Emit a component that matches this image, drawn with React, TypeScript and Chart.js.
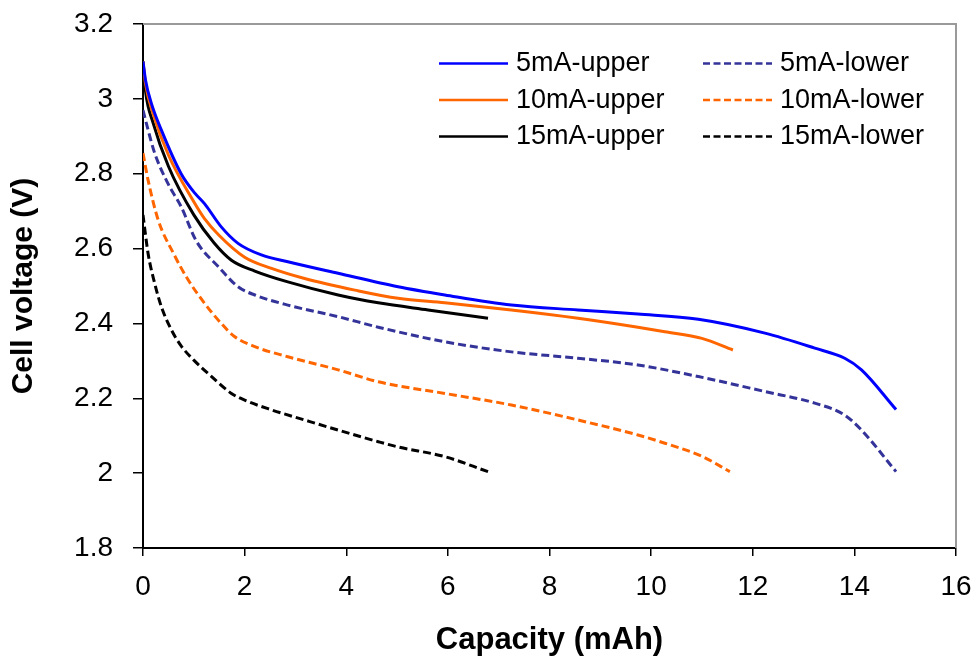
import React, { useEffect, useRef } from "react";
import { Chart, registerables } from "chart.js";

Chart.register(...registerables);

// ---- Data ----
const seriesLabels = ["5mA-upper", "10mA-upper", "15mA-upper", "5mA-lower", "10mA-lower", "15mA-lower"];

const cap5Upper = [0, 0.05, 0.16, 0.36, 0.75, 1.02, 1.21, 1.54, 1.87, 2.33, 2.85, 3.84, 5.02, 5.94, 7.25, 8.56, 9.74, 10.93, 12.24, 13.22, 13.81, 14.14, 14.82];
const volt5Upper = [3.1, 3.05, 2.99, 2.917, 2.8, 2.748, 2.72, 2.658, 2.614, 2.583, 2.565, 2.534, 2.498, 2.476, 2.449, 2.436, 2.425, 2.411, 2.374, 2.334, 2.307, 2.276, 2.17];

const cap10Upper = [0, 0.05, 0.2, 0.5, 1.0, 1.21, 1.5, 2.0, 2.53, 3.18, 4.17, 5.02, 5.94, 7.25, 8.56, 9.74, 10.27, 11.0, 11.61];
const volt10Upper = [3.1, 3.04, 2.96, 2.85, 2.725, 2.68, 2.635, 2.577, 2.547, 2.52, 2.489, 2.467, 2.455, 2.436, 2.414, 2.39, 2.378, 2.36, 2.329];

const cap15Upper = [0, 0.05, 0.2, 0.5, 1.0, 1.4, 1.74, 2.2, 2.85, 3.84, 4.63, 5.61, 6.79];
const volt15Upper = [3.1, 3.02, 2.935, 2.82, 2.69, 2.615, 2.569, 2.54, 2.511, 2.476, 2.455, 2.436, 2.414];

const cap5Lower = [0, 0.1, 0.23, 0.49, 0.75, 1.05, 1.48, 1.87, 2.2, 2.85, 3.84, 4.63, 5.94, 7.25, 8.56, 9.74, 10.93, 12.24, 13.22, 13.81, 14.14, 14.82];
const volt5Lower = [2.97, 2.917, 2.855, 2.774, 2.712, 2.62, 2.552, 2.498, 2.476, 2.449, 2.418, 2.39, 2.351, 2.324, 2.307, 2.289, 2.258, 2.218, 2.187, 2.155, 2.115, 2.004];

const cap10Lower = [0, 0.1, 0.3, 0.6, 0.89, 1.21, 1.54, 1.8, 2.2, 2.85, 3.84, 4.63, 5.94, 7.25, 8.56, 9.74, 10.27, 11.0, 11.55];
const volt10Lower = [2.855, 2.783, 2.676, 2.587, 2.516, 2.454, 2.4, 2.365, 2.338, 2.311, 2.276, 2.244, 2.213, 2.182, 2.142, 2.102, 2.08, 2.045, 2.004];

const cap15Lower = [0, 0.1, 0.23, 0.36, 0.55, 0.75, 1.0, 1.35, 1.74, 2.0, 2.53, 3.18, 3.84, 4.63, 5.02, 5.94, 6.79];
const volt15Lower = [2.69, 2.587, 2.507, 2.445, 2.385, 2.34, 2.302, 2.258, 2.213, 2.195, 2.169, 2.142, 2.115, 2.084, 2.07, 2.044, 2.004];

const xMin = 0;
const xMax = 16;
const xStep = 2;
const yMin = 1.8;
const yMax = 3.2;
const yStep = 0.2;

const xTitle = "Capacity (mAh)";
const yTitle = "Cell voltage (V)";

// ---- Styles ----
const FONT = "'Liberation Sans', Arial, sans-serif";
const seriesColors = ["#0000FF", "#FF6600", "#000000", "#333399", "#FF6600", "#000000"];
const seriesDashed = [false, false, false, true, true, true];

const zip = (xs: number[], ys: number[]) => xs.map((x, i) => ({ x, y: ys[i] }));

const seriesData = [
  zip(cap5Upper, volt5Upper),
  zip(cap10Upper, volt10Upper),
  zip(cap15Upper, volt15Upper),
  zip(cap5Lower, volt5Lower),
  zip(cap10Lower, volt10Lower),
  zip(cap15Lower, volt15Lower),
];

const frameAndLegend = {
  id: "frameAndLegend",
  beforeDatasetsDraw(chart: any) {
    const { ctx, chartArea } = chart;
    ctx.save();
    ctx.strokeStyle = "#9a9a9a";
    ctx.lineWidth = 2;
    ctx.beginPath();
    ctx.moveTo(chartArea.left, chartArea.top);
    ctx.lineTo(chartArea.right, chartArea.top);
    ctx.lineTo(chartArea.right, chartArea.bottom);
    ctx.stroke();
    ctx.restore();
  },
  afterDraw(chart: any) {
    const { ctx } = chart;
    const colLineStart = [439, 703];
    const lineLen = 69;
    const textGap = 8;
    const rowLineY = [63.5, 100, 136.5];
    const baselineOffset = 7.5;
    ctx.save();
    chart.data.datasets.forEach((ds: any, i: number) => {
      const col = i < 3 ? 0 : 1;
      const row = i % 3;
      const x0 = colLineStart[col];
      const y = rowLineY[row];
      ctx.beginPath();
      ctx.strokeStyle = ds.borderColor;
      ctx.lineWidth = 2.5;
      ctx.setLineDash(ds.borderDash && ds.borderDash.length ? [7, 3.5] : []);
      ctx.moveTo(x0, y);
      ctx.lineTo(x0 + lineLen, y);
      ctx.stroke();
      ctx.setLineDash([]);
      ctx.fillStyle = "#000";
      ctx.font = `27px ${FONT}`;
      ctx.textAlign = "left";
      ctx.textBaseline = "alphabetic";
      ctx.fillText(ds.label, x0 + lineLen + textGap, y + baselineOffset);
    });
    ctx.restore();
  },
};

export default function App() {
  const canvasRef = useRef<HTMLCanvasElement | null>(null);

  useEffect(() => {
    if (!canvasRef.current) return;
    const chart = new Chart(canvasRef.current, {
      type: "line",
      data: {
        datasets: seriesLabels.map((label, i) => ({
          label,
          data: seriesData[i],
          borderColor: seriesColors[i],
          backgroundColor: seriesColors[i],
          borderWidth: 3,
          borderDash: seriesDashed[i] ? [8, 4] : [],
          pointRadius: 0,
          fill: false,
          cubicInterpolationMode: "monotone",
        })),
      },
      options: {
        responsive: false,
        animation: false,
        devicePixelRatio: 1,
        layout: { padding: { left: 0, top: 24, right: 24, bottom: 0 } },
        plugins: {
          legend: { display: false },
          tooltip: { enabled: false },
        },
        scales: {
          x: {
            type: "linear",
            min: xMin,
            max: xMax,
            ticks: {
              stepSize: xStep,
              color: "#000",
              font: { family: FONT, size: 28 },
              padding: 14,
              maxRotation: 0,
              autoSkip: false,
            },
            grid: {
              drawOnChartArea: false,
              drawTicks: true,
              tickLength: 8,
              color: "#000",
              lineWidth: 1.5,
            },
            border: { display: true, color: "#000", width: 2 },
            title: {
              display: true,
              text: xTitle,
              color: "#000",
              font: { family: FONT, size: 31, weight: "bold" },
              padding: { top: 0, bottom: 1 },
            },
            afterFit: (scale: any) => {
              scale.height = 112;
              scale.paddingLeft = 0;
              scale.paddingRight = 0;
            },
          },
          y: {
            type: "linear",
            min: yMin,
            max: yMax,
            ticks: {
              stepSize: yStep,
              color: "#000",
              font: { family: FONT, size: 28 },
              padding: 20,
              callback: (v: any) => String(Math.round(Number(v) * 10) / 10),
            },
            grid: {
              drawOnChartArea: false,
              drawTicks: true,
              tickLength: 10,
              color: "#000",
              lineWidth: 1.5,
            },
            border: { display: true, color: "#000", width: 2 },
            title: {
              display: true,
              text: yTitle,
              color: "#000",
              font: { family: FONT, size: 30, weight: "bold" },
              padding: { top: 6, bottom: 0 },
            },
            afterFit: (scale: any) => {
              scale.width = 143;
              scale.paddingTop = 0;
              scale.paddingBottom = 0;
            },
          },
        },
      },
      plugins: [frameAndLegend],
    } as any);
    return () => chart.destroy();
  }, []);

  return (
    <div style={{ position: "absolute", left: 0, top: 0, width: 980, height: 660, background: "#fff" }}>
      <canvas ref={canvasRef} width={980} height={660} style={{ display: "block" }} />
    </div>
  );
}
